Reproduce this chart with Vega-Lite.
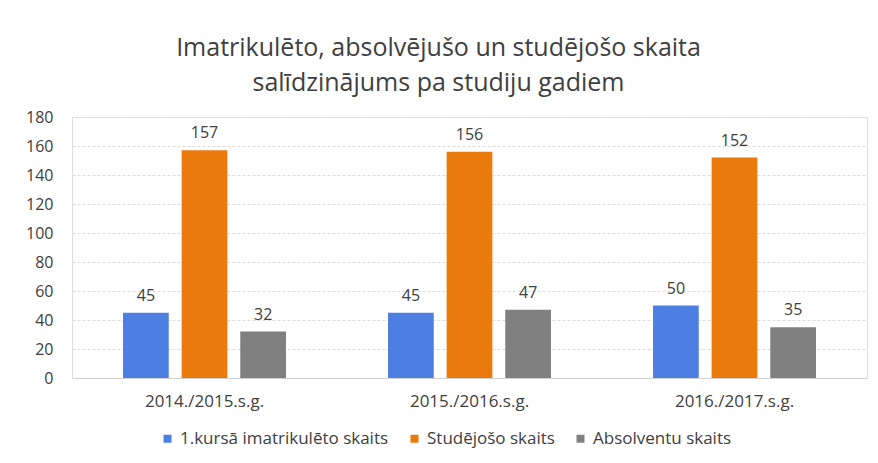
{
  "$schema": "https://vega.github.io/schema/vega-lite/v6.json",
  "width": 795,
  "height": 261,
  "autosize": {"type": "none"},
  "padding": {"left": 72, "top": 117, "right": 11, "bottom": 85},
  "background": "#ffffff",
  "title": {
    "text": ["Imatrikulēto, absolvējušo un studējošo skaita", "salīdzinājums pa studiju gadiem"],
    "font": "Open Sans",
    "fontSize": 25,
    "fontWeight": "normal",
    "color": "#404040",
    "lineHeight": 35,
    "anchor": "middle",
    "dx": -31,
    "offset": 13
  },
  "data": {
    "values": [
      {"gads": "2014./2015.s.g.", "kategorija": "1.kursā imatrikulēto skaits", "skaits": 45},
      {"gads": "2014./2015.s.g.", "kategorija": "Studējošo skaits", "skaits": 157},
      {"gads": "2014./2015.s.g.", "kategorija": "Absolventu skaits", "skaits": 32},
      {"gads": "2015./2016.s.g.", "kategorija": "1.kursā imatrikulēto skaits", "skaits": 45},
      {"gads": "2015./2016.s.g.", "kategorija": "Studējošo skaits", "skaits": 156},
      {"gads": "2015./2016.s.g.", "kategorija": "Absolventu skaits", "skaits": 47},
      {"gads": "2016./2017.s.g.", "kategorija": "1.kursā imatrikulēto skaits", "skaits": 50},
      {"gads": "2016./2017.s.g.", "kategorija": "Studējošo skaits", "skaits": 152},
      {"gads": "2016./2017.s.g.", "kategorija": "Absolventu skaits", "skaits": 35}
    ]
  },
  "encoding": {
    "x": {
      "field": "gads", "type": "nominal", "title": null,
      "scale": {"paddingInner": 0.385, "paddingOuter": 0.1925},
      "axis": {"labelAngle": 0, "ticks": false, "domainColor": "#d0d0d0", "labelFont": "Open Sans", "labelFontSize": 17, "labelColor": "#404040", "labelPadding": 15}
    },
    "xOffset": {
      "field": "kategorija", "type": "nominal",
      "sort": ["1.kursā imatrikulēto skaits", "Studējošo skaits", "Absolventu skaits"],
      "scale": {"paddingInner": 0.22, "paddingOuter": 0}
    },
    "y": {
      "field": "skaits", "type": "quantitative", "title": null,
      "scale": {"domain": [0, 180]},
      "axis": {"values": [0, 20, 40, 60, 80, 100, 120, 140, 160, 180], "domain": false, "ticks": false, "gridColor": "#dcdcdc", "gridDash": [3, 2], "labelFont": "Open Sans", "labelFontSize": 16, "labelColor": "#404040", "labelPadding": 19}
    }
  },
  "layer": [
    {
      "mark": {"type": "bar"},
      "encoding": {
        "color": {
          "field": "kategorija", "type": "nominal",
          "sort": ["1.kursā imatrikulēto skaits", "Studējošo skaits", "Absolventu skaits"],
          "scale": {"domain": ["1.kursā imatrikulēto skaits", "Studējošo skaits", "Absolventu skaits"], "range": ["#4d7fe2", "#ea7a0c", "#808080"]},
          "legend": {"orient": "none", "direction": "horizontal", "legendX": 87, "legendY": 313, "padding": 0, "title": null, "symbolType": "square", "symbolSize": 64, "symbolStrokeWidth": 0, "labelFont": "Open Sans", "labelFontSize": 17, "labelColor": "#404040", "labelLimit": 400, "columnPadding": 17, "labelOffset": 4}
        }
      }
    },
    {
      "mark": {"type": "text", "baseline": "bottom", "dy": -9, "font": "Open Sans", "fontSize": 16, "color": "#404040"},
      "encoding": {
        "text": {"field": "skaits", "type": "quantitative"}
      }
    }
  ]
}
